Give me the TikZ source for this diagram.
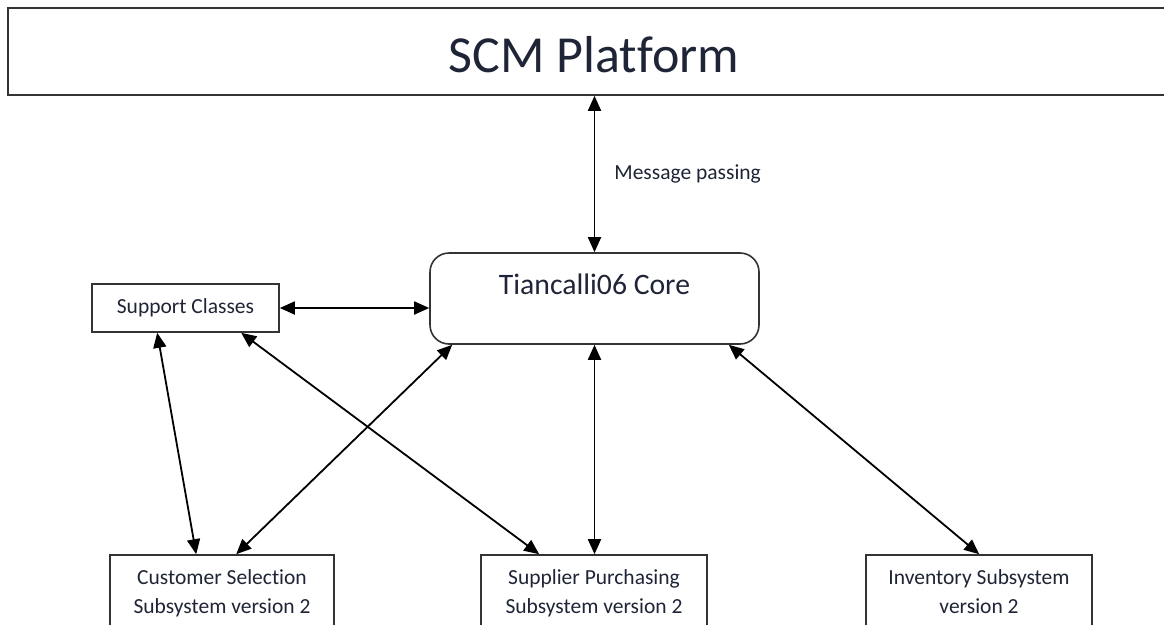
\documentclass[tikz,border=0pt]{standalone}
\usepackage{fontspec}
\setmainfont[Ligatures={NoCommon}]{Carlito}
\usetikzlibrary{arrows.meta,calc}
\definecolor{txt}{HTML}{1F2536}
\definecolor{edge}{HTML}{333333}
\begin{document}
\begin{tikzpicture}[x=1pt,y=-1pt,
  box/.style={draw=edge, line width=1.6pt, fill=white, text=txt, inner sep=0pt, align=center},
  small/.style={font=\fontsize{21.5}{29}\selectfont},
  arr/.style={{Triangle[length=15pt,width=13pt]}-{Triangle[length=15pt,width=13pt]}, line width=1.8pt, black}
]
\useasboundingbox (0,0) rectangle (1164,624);
\fill[white] (0,0) rectangle (1164,624);

\node[box, minimum width=1172pt, minimum height=87pt, font=\fontsize{52}{60}\selectfont,
      text height=42pt, text depth=0pt] (scm) at (594,51.5) {SCM Platform};

\node[box, rounded corners=19pt, minimum width=329pt, minimum height=91pt,
      font=\fontsize{29.7}{34}\selectfont, text height=22pt, text depth=31pt] (core) at (594.5,298.5) {Tiancalli06 Core};

\node[box, small, minimum width=187pt, minimum height=48pt] (support) at (185.5,308) {Support Classes};

\node[box, small, minimum width=224pt, minimum height=77pt] (cust) at (222,593.5) {\strut Customer Selection\\\strut Subsystem version 2};
\node[box, small, minimum width=226pt, minimum height=77pt] (supp) at (594,593.5) {\strut Supplier Purchasing\\\strut Subsystem version 2};
\node[box, small, minimum width=226pt, minimum height=77pt] (inv) at (979,593.5) {\strut Inventory Subsystem\\\strut version 2};

\draw[arr] (scm.south -| core.north) -- (core.north)
  node[midway, anchor=west, xshift=19pt, inner sep=0pt, small, text=txt] (msg) {Message passing};
\draw[arr] (support.east) -- (support.east -| core.west);
\draw[arr] ([xshift=66pt]support.south west) -- ([xshift=87pt]cust.north west);
\draw[arr] ([xshift=150pt]support.south west) -- ([xshift=59pt]supp.north west);
\draw[arr] ([xshift=23pt]core.south west) -- ([xshift=127pt]cust.north west);
\draw[arr] (core.south) -- (core.south |- supp.north);
\draw[arr] ([xshift=-31pt]core.south east) -- ([xshift=114pt]inv.north west);
\end{tikzpicture}
\end{document}
